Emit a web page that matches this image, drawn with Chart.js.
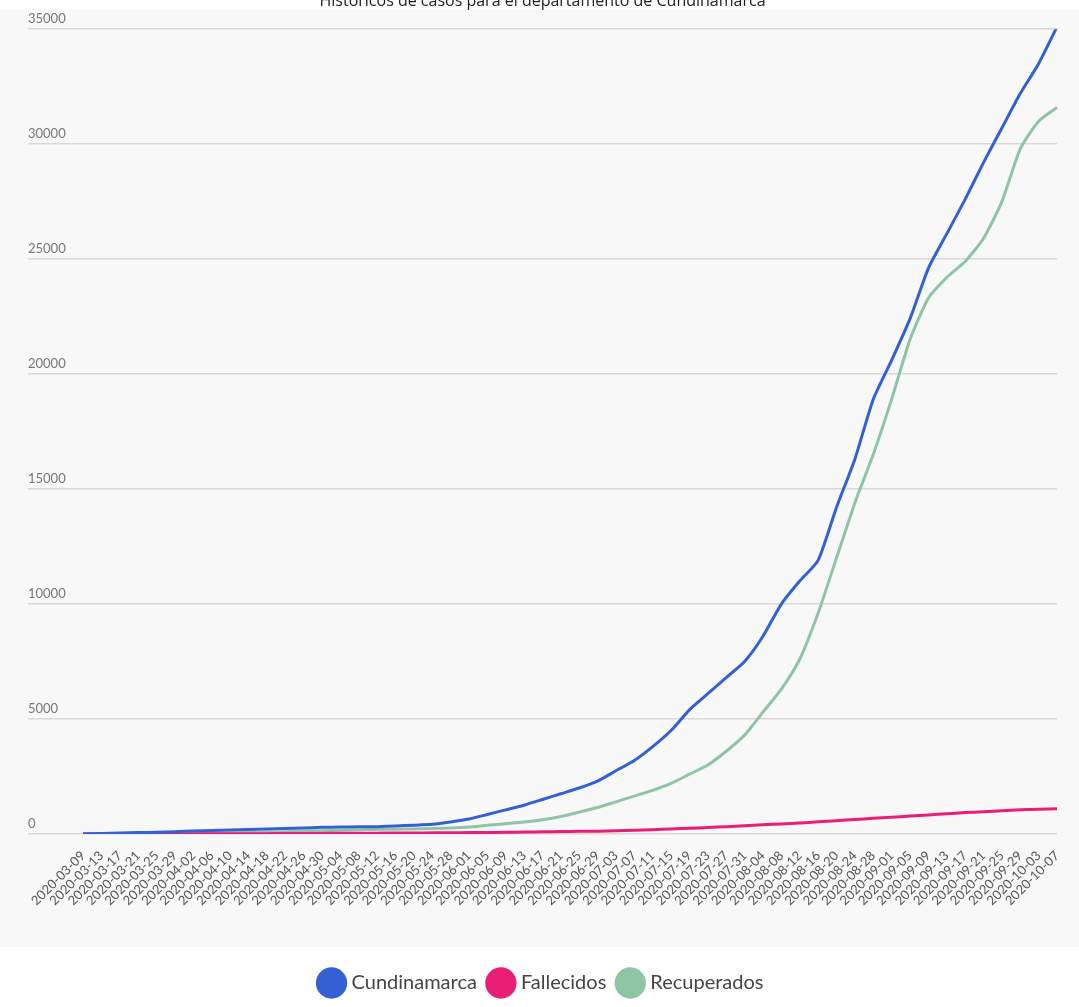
<!DOCTYPE html>
<html><head><meta charset="utf-8">
<script src="https://cdn.jsdelivr.net/npm/chart.js@4"></script>
<style>html,body{margin:0;padding:0;background:#fff}#w{width:1079px;height:1007px}</style>
</head><body><div id="w"><canvas id="c"></canvas></div>
<script>
const labels = ["2020-03-09","2020-03-13","2020-03-17","2020-03-21","2020-03-25","2020-03-29","2020-04-02","2020-04-06","2020-04-10","2020-04-14","2020-04-18","2020-04-22","2020-04-26","2020-04-30","2020-05-04","2020-05-08","2020-05-12","2020-05-16","2020-05-20","2020-05-24","2020-05-28","2020-06-01","2020-06-05","2020-06-09","2020-06-13","2020-06-17","2020-06-21","2020-06-25","2020-06-29","2020-07-03","2020-07-07","2020-07-11","2020-07-15","2020-07-19","2020-07-23","2020-07-27","2020-07-31","2020-08-04","2020-08-08","2020-08-12","2020-08-16","2020-08-20","2020-08-24","2020-08-28","2020-09-01","2020-09-05","2020-09-09","2020-09-13","2020-09-17","2020-09-21","2020-09-25","2020-09-29","2020-10-03","2020-10-07"];
const cundinamarca = [10,20,40,60,80,100,130,150,170,200,220,240,260,290,300,310,320,350,380,420,520,650,850,1050,1250,1500,1750,2000,2300,2750,3200,3800,4500,5400,6100,6800,7500,8600,10000,11000,11900,14200,16300,18900,20600,22400,24600,26100,27600,29200,30700,32200,33500,35100];
const fallecidos = [0,0,0,1,2,3,5,8,10,12,15,18,22,26,30,34,38,42,46,50,55,60,65,75,85,95,105,115,125,140,160,190,220,250,280,320,360,400,440,480,530,580,630,680,730,780,830,880,930,970,1010,1050,1080,1100];
const recuperados = [0,0,2,5,10,15,25,35,50,60,80,100,120,140,160,180,200,210,220,240,260,300,380,450,520,620,760,950,1150,1400,1650,1900,2200,2600,3000,3600,4300,5300,6300,7600,9600,12000,14400,16500,18900,21500,23300,24200,24900,25900,27500,29800,31000,31600];
const yTicks = [0,5000,10000,15000,20000,25000,30000,35000];

new Chart(document.getElementById('c'), {
  type: 'line',
  data: { labels, datasets: [
    {label:'Cundinamarca', data:cundinamarca, borderColor:'#3361d3', backgroundColor:'#3361d3', borderWidth:3, pointRadius:0, tension:0.2},
    {label:'Fallecidos', data:fallecidos, borderColor:'#e91e74', backgroundColor:'#e91e74', borderWidth:3, pointRadius:0, tension:0.2},
    {label:'Recuperados', data:recuperados, borderColor:'#8fc4a5', backgroundColor:'#8fc4a5', borderWidth:3, pointRadius:0, tension:0.2}
  ]},
  options: {
    responsive:true, maintainAspectRatio:false, animation:false,
    layout:{padding:{left:28,right:22,top:0,bottom:4}},
    plugins:{
      title:{display:true, text:'Históricos de casos para el departamento de Cundinamarca', color:'#222', font:{family:'Open Sans',size:16,weight:'normal'}, padding:{top:-8,bottom:18}},
      legend:{position:'bottom', labels:{usePointStyle:true, pointStyle:'circle', boxWidth:26, boxHeight:26, padding:14, color:'#444', font:{family:'Lato',size:20}}}
    },
    scales:{
      x:{grid:{display:false}, border:{display:false}, afterFit:s=>{s.height=125;}, ticks:{autoSkip:false, maxRotation:45, minRotation:45, padding:6, color:'#555', font:{family:'Lato',size:13}}},
      y:{min:0,max:35000, afterFit:s=>{s.width=55;},
         afterBuildTicks:s=>{s.ticks=yTicks.map(v=>({value:v}));},
         grid:{color:'#d8d8d8', lineWidth:1.5, tickLength:55}, border:{display:false},
         ticks:{crossAlign:'far', labelOffset:-10, padding:0, color:'#777', font:{family:'Lato',size:13}, callback:v=>String(v)}}
    }
  },
  plugins:[{id:'bg',beforeDraw(ch){const a=ch.chartArea,x=ch.ctx;x.save();x.fillStyle='#f8f8f8';x.fillRect(0,a.top-20,ch.width,ch.height-a.top-40);x.restore();}}]
});
</script></body></html>
